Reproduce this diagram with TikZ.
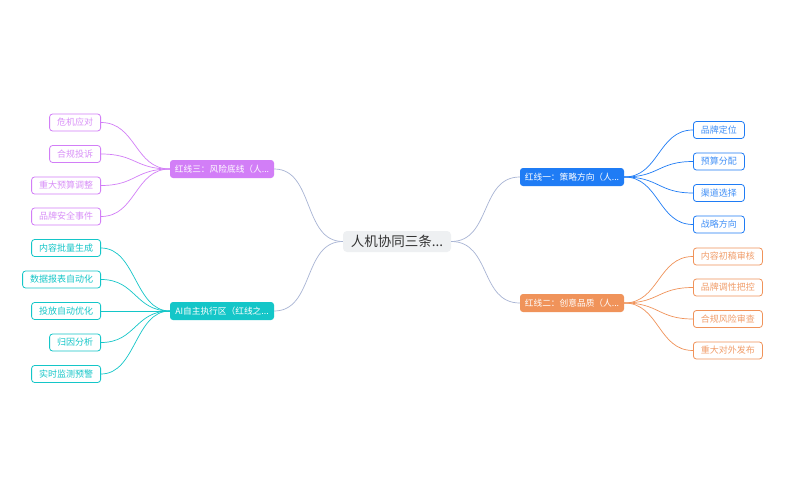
\documentclass[tikz,border=0pt]{standalone}
\usepackage{fontspec}
\setmainfont{Noto Sans CJK SC}
\begin{document}
\begin{tikzpicture}[x=1pt,y=-1pt,
  rootbox/.style={fill=rootfill,rounded corners=4pt,minimum width=108pt,minimum height=21pt,inner sep=0pt,font=\fontsize{13.5}{15}\selectfont,text=black!80},
  branchbox/.style={rounded corners=3pt,minimum width=104pt,minimum height=18pt,inner sep=0pt,text=white,font=\fontsize{8.7}{10}\selectfont},
  leafbox/.style={rounded corners=3pt,draw,line width=0.8pt,fill=white,minimum height=17pt,inner sep=0pt,inner xsep=7.5pt,font=\fontsize{9}{10}\selectfont},
  rootlink/.style={draw=linkgray,line width=0.7pt},
  leaflink/.style={line width=0.7pt}]
\definecolor{rootfill}{HTML}{EEF0F2}
\definecolor{linkgray}{HTML}{A8B4D4}
\definecolor{cblue}{HTML}{1F7CF5}
\definecolor{corange}{HTML}{F0935A}
\definecolor{cpurple}{HTML}{D27EF7}
\definecolor{ccyan}{HTML}{14C6C8}
\useasboundingbox (0,0) rectangle (800,500);
\fill[white] (0,0) rectangle (800,500);

\node[rootbox] (root) at (397,241.5) {人机协同三条...};

\node[branchbox,fill=cblue] (b1) at (572,177) {红线一：策略方向（人...};
\node[branchbox,fill=corange] (b2) at (572,303) {红线二：创意品质（人...};
\node[branchbox,fill=cpurple] (b3) at (222,169) {红线三：风险底线（人...};
\node[branchbox,fill=ccyan] (b4) at (222,311) {AI自主执行区（红线之...};

\draw[rootlink] (root.east) .. controls +(40,0) and +(-40,0) .. (b1.west);
\draw[rootlink] (root.east) .. controls +(40,0) and +(-40,0) .. (b2.west);
\draw[rootlink] (root.west) .. controls +(-40,0) and +(40,0) .. (b3.east);
\draw[rootlink] (root.west) .. controls +(-40,0) and +(40,0) .. (b4.east);

% blue leaves
\begin{scope}[every node/.style={leafbox,draw=cblue,text=cblue!85,anchor=west}]
\node (l11) at (693,130) {品牌定位};
\node (l12) at (693,161.5) {预算分配};
\node (l13) at (693,193) {渠道选择};
\node (l14) at (693,224.5) {战略方向};
\end{scope}
\foreach \n in {l11,l12,l13,l14}
  \draw[leaflink,draw=cblue] (b1.east) .. controls +(35,0) and +(-35,0) .. (\n.west);

% orange leaves
\begin{scope}[every node/.style={leafbox,draw=corange,text=corange!90,anchor=west}]
\node (l21) at (693,256.5) {内容初稿审核};
\node (l22) at (693,287.5) {品牌调性把控};
\node (l23) at (693,319) {合规风险审查};
\node (l24) at (693,350.5) {重大对外发布};
\end{scope}
\foreach \n in {l21,l22,l23,l24}
  \draw[leaflink,draw=corange] (b2.east) .. controls +(35,0) and +(-35,0) .. (\n.west);

% purple leaves
\begin{scope}[every node/.style={leafbox,draw=cpurple,text=cpurple!85,anchor=east}]
\node (l31) at (101,122.5) {危机应对};
\node (l32) at (101,154) {合规投诉};
\node (l33) at (101,185.5) {重大预算调整};
\node (l34) at (101,216.5) {品牌安全事件};
\end{scope}
\foreach \n in {l31,l32,l33,l34}
  \draw[leaflink,draw=cpurple] (b3.west) .. controls +(-35,0) and +(35,0) .. (\n.east);

% cyan leaves
\begin{scope}[every node/.style={leafbox,draw=ccyan,text=ccyan,anchor=east}]
\node (l41) at (101,248) {内容批量生成};
\node (l42) at (101,279.5) {数据报表自动化};
\node (l43) at (101,311) {投放自动优化};
\node (l44) at (101,342.5) {归因分析};
\node (l45) at (101,374) {实时监测预警};
\end{scope}
\foreach \n in {l41,l42,l43,l44,l45}
  \draw[leaflink,draw=ccyan] (b4.west) .. controls +(-35,0) and +(35,0) .. (\n.east);
\end{tikzpicture}
\end{document}
